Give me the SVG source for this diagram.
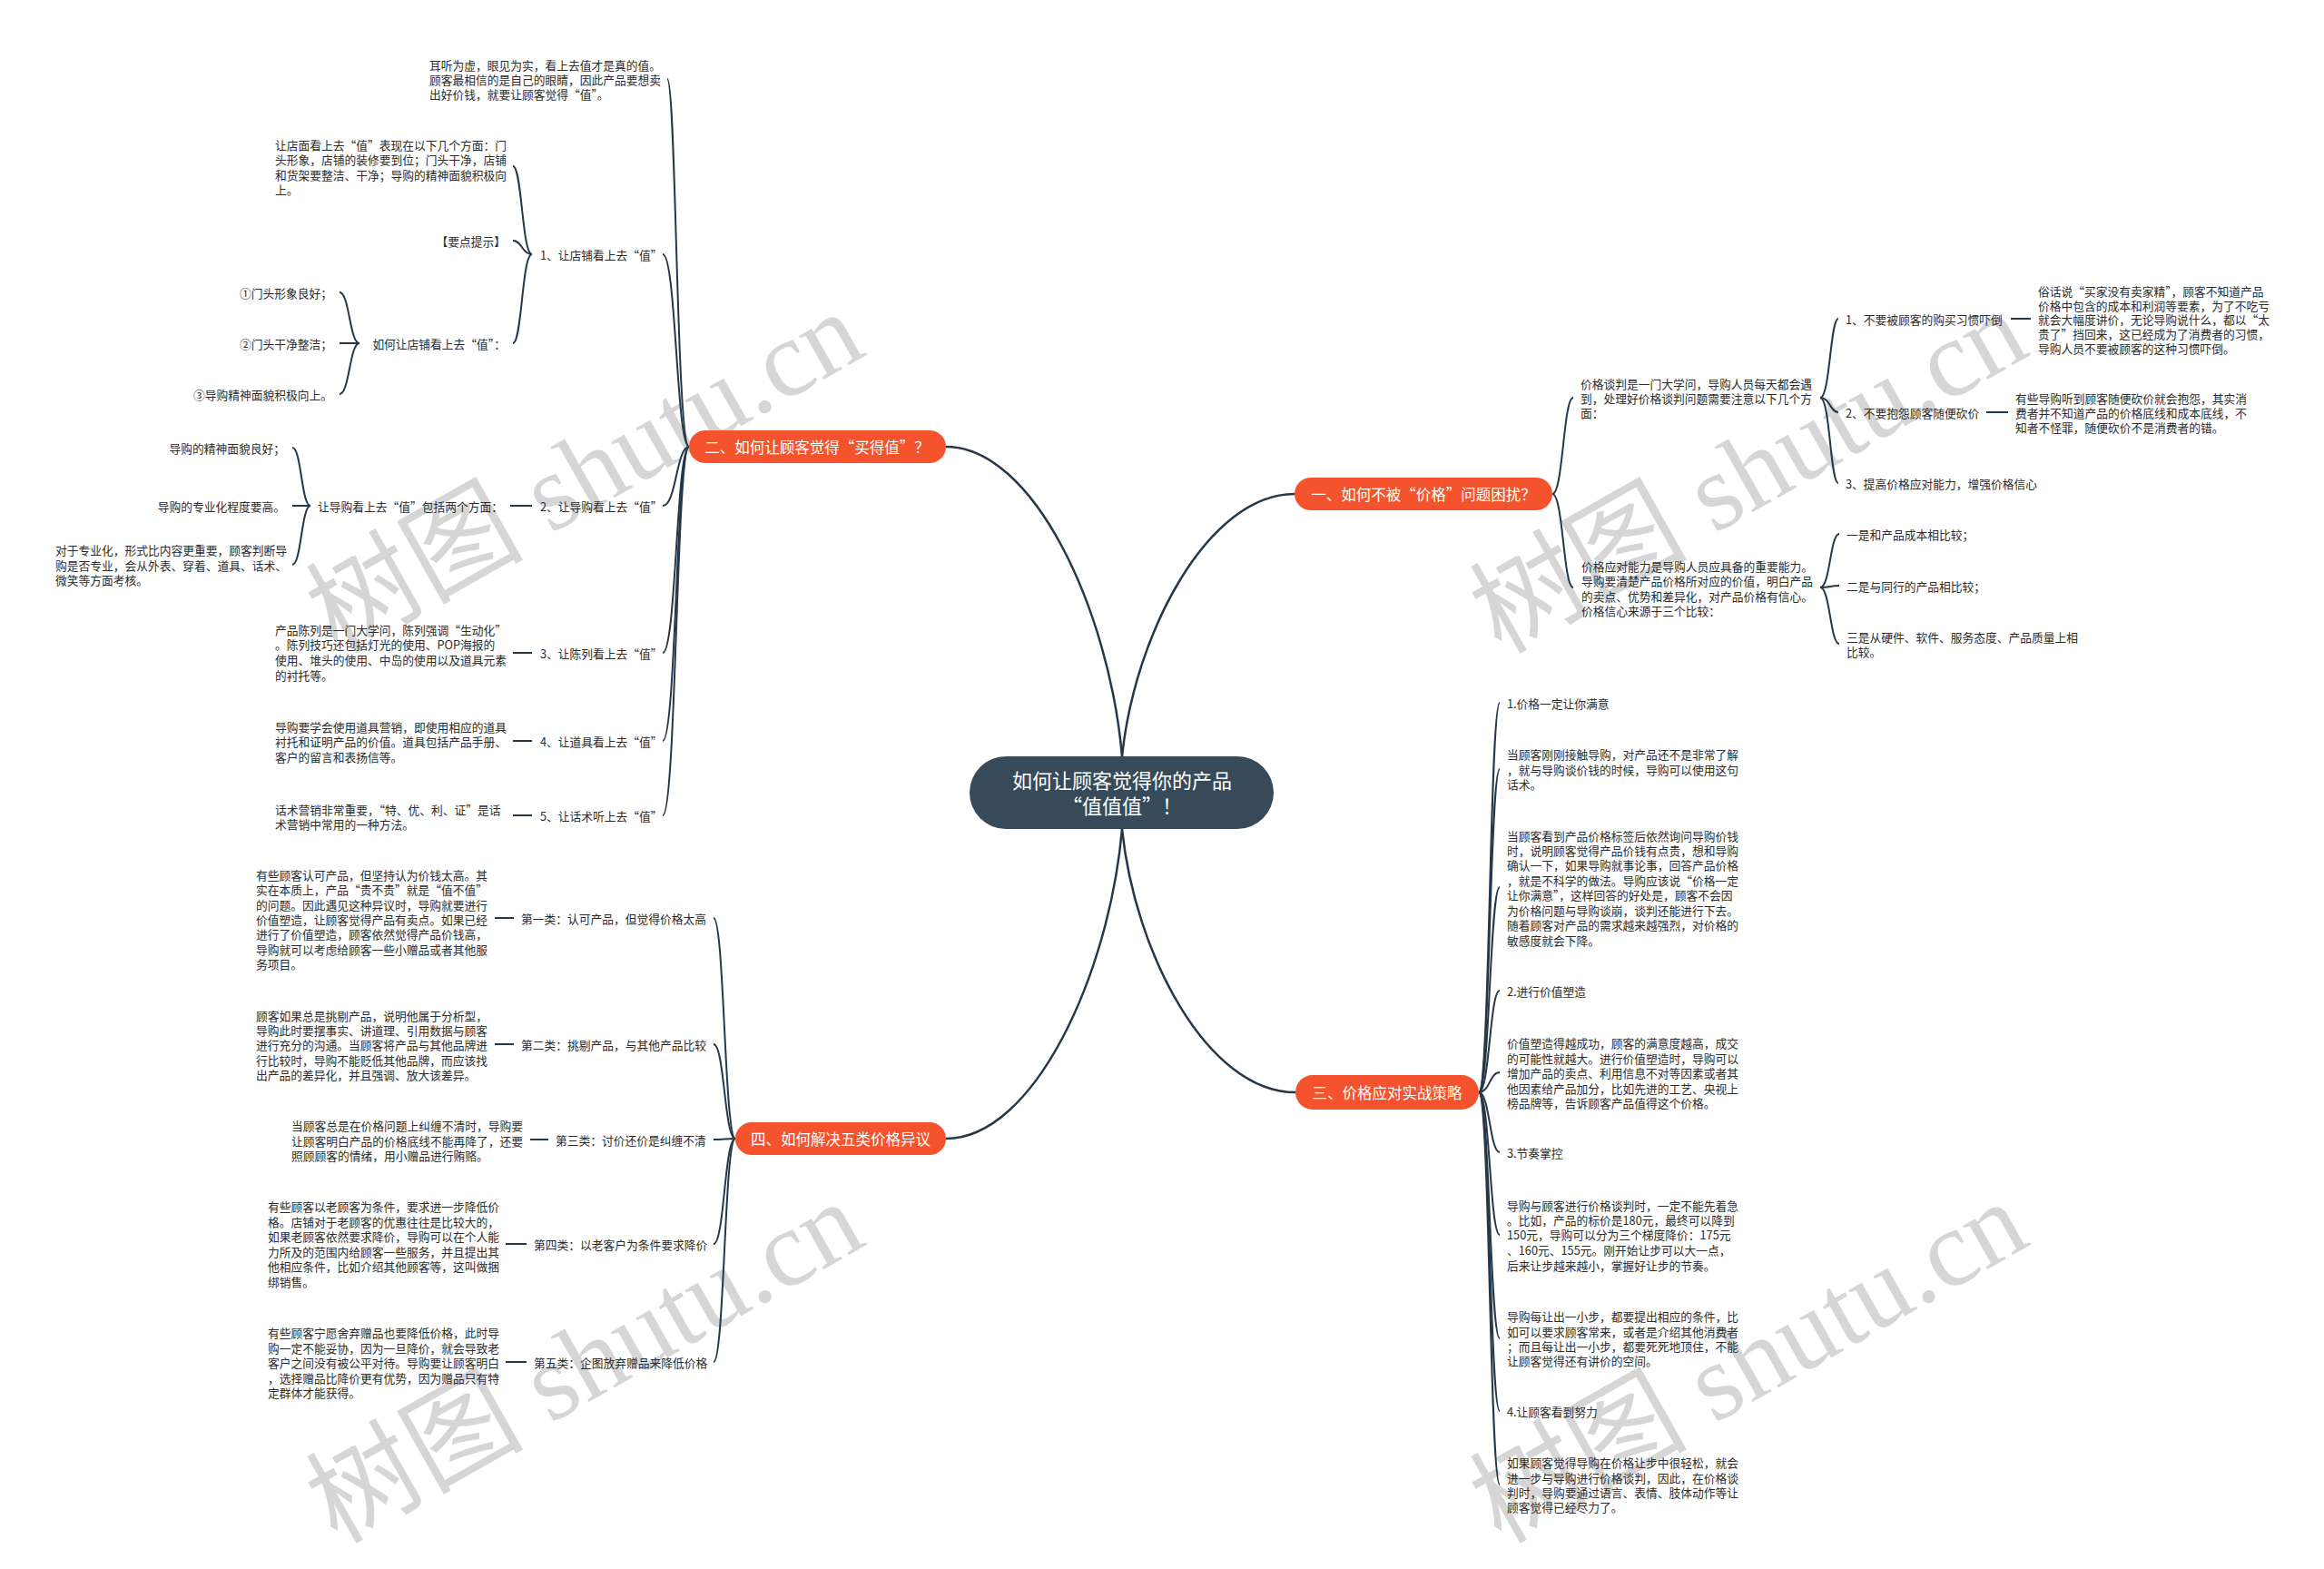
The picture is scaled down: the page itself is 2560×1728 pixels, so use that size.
<svg xmlns="http://www.w3.org/2000/svg" width="2560" height="1728" viewBox="0 0 2560 1728">
<style>
text{font-family:"Noto Sans CJK SC","Noto Sans",sans-serif;dominant-baseline:central}
.t{font-size:12.75px;fill:#2b2b2b}
.e{text-anchor:end}
.b{font-size:16.5px;fill:#fff;text-anchor:middle}
.c{font-size:22px;fill:#fff;text-anchor:middle}
.ln{fill:none;stroke:#263747;stroke-width:2}
.mn{fill:none;stroke:#263747;stroke-width:2.5}
.br{fill:#f4532d}
.wm{font-family:"Liberation Serif","Noto Sans CJK SC",serif;font-size:120px;fill:#d6d6d6}
</style>
<rect width="2560" height="1728" fill="#fff"/>
<g id="watermarks">
<text class="wm" transform="translate(351 686) rotate(-29.5)">树图 shutu.cn</text>
<text class="wm" transform="translate(351 1666) rotate(-29.5)">树图 shutu.cn</text>
<text class="wm" transform="translate(1633 686) rotate(-29.5)">树图 shutu.cn</text>
<text class="wm" transform="translate(1633 1666) rotate(-29.5)">树图 shutu.cn</text>
</g>
<g id="connectors">
<path class="mn" d="M1236 833 C1250 697 1331 544 1426 544"/>
<path class="mn" d="M1236 833 C1222 673 1139 492 1042 492"/>
<path class="mn" d="M1236 913 C1250 1050 1330 1203 1427 1203"/>
<path class="mn" d="M1236 913 C1222 1073 1139 1254 1042 1254"/>
<path class="ln" d="M759 492 C745 492 745 87 735 87"/>
<path class="ln" d="M759 492 C745 492 745 280 730 280"/>
<path class="ln" d="M759 492 C745 492 745 557 730 557"/>
<path class="ln" d="M759 492 C745 492 745 719 730 719"/>
<path class="ln" d="M759 492 C745 492 745 816 730 816"/>
<path class="ln" d="M759 492 C745 492 745 898 730 898"/>
<path class="ln" d="M586 280 C575 280 575 183 565 183"/>
<path class="ln" d="M586 280 C575 280 575 265 565 265"/>
<path class="ln" d="M586 280 C575 280 575 378 565 378"/>
<path class="ln" d="M396 378 C385 378 385 322 374 322"/>
<path class="ln" d="M396 378 L374 378"/>
<path class="ln" d="M396 378 C385 378 385 434 374 434"/>
<path class="ln" d="M586 557 L562 557"/>
<path class="ln" d="M342 557 C332 557 332 493 322 493"/>
<path class="ln" d="M342 557 L322 557"/>
<path class="ln" d="M342 557 C332 557 332 622 322 622"/>
<path class="ln" d="M586 719 L565 719"/>
<path class="ln" d="M586 816 L565 816"/>
<path class="ln" d="M586 898 L565 898"/>
<path class="ln" d="M810 1254 C798 1254 798 1011 786 1011"/>
<path class="ln" d="M810 1254 C798 1254 798 1150 786 1150"/>
<path class="ln" d="M810 1254 C798 1254 798 1255 786 1255"/>
<path class="ln" d="M810 1254 C798 1254 798 1370 786 1370"/>
<path class="ln" d="M810 1254 C798 1254 798 1500 786 1500"/>
<path class="ln" d="M566 1011 L545 1011"/>
<path class="ln" d="M566 1150 L545 1150"/>
<path class="ln" d="M604 1255 L584 1255"/>
<path class="ln" d="M580 1370 L557 1370"/>
<path class="ln" d="M580 1500 L557 1500"/>
<path class="ln" d="M1710 544 C1722 544 1722 438 1733 438"/>
<path class="ln" d="M1710 544 C1722 544 1722 647 1733 647"/>
<path class="ln" d="M2005 438 C2016 438 2016 351 2025 351"/>
<path class="ln" d="M2005 438 C2016 438 2016 454 2025 454"/>
<path class="ln" d="M2005 438 C2016 438 2016 532 2025 532"/>
<path class="ln" d="M2215 351 L2237 351"/>
<path class="ln" d="M2188 454 L2212 454"/>
<path class="ln" d="M2005 647 C2016 647 2016 588 2026 588"/>
<path class="ln" d="M2005 647 C2016 647 2016 645 2026 645"/>
<path class="ln" d="M2005 647 C2016 647 2016 709 2026 709"/>
<path class="ln" d="M1629 1203 C1641 1203 1641 774 1652 774"/>
<path class="ln" d="M1629 1203 C1641 1203 1641 847 1652 847"/>
<path class="ln" d="M1629 1203 C1641 1203 1641 977 1652 977"/>
<path class="ln" d="M1629 1203 C1641 1203 1641 1091 1652 1091"/>
<path class="ln" d="M1629 1203 C1641 1203 1641 1181 1652 1181"/>
<path class="ln" d="M1629 1203 C1641 1203 1641 1269 1652 1269"/>
<path class="ln" d="M1629 1203 C1641 1203 1641 1360 1652 1360"/>
<path class="ln" d="M1629 1203 C1641 1203 1641 1474 1652 1474"/>
<path class="ln" d="M1629 1203 C1641 1203 1641 1554 1652 1554"/>
<path class="ln" d="M1629 1203 C1641 1203 1641 1635 1652 1635"/>
</g>
<g id="center">
<rect x="1068" y="833" width="335" height="80" rx="40" fill="#364a59"/>
<text class="c" x="1236" y="858">如何让顾客觉得你的产品</text>
<text class="c" x="1236" y="886">“值值值”！</text>
</g>
<g id="b1"><rect class="br" x="1426" y="526" width="284" height="36" rx="18"/><text class="b" x="1568" y="544">一、如何不被“价格”问题困扰？</text></g>
<g id="b2"><rect class="br" x="759" y="474" width="283" height="36" rx="18"/><text class="b" x="900" y="492">二、如何让顾客觉得“买得值”？</text></g>
<g id="b3"><rect class="br" x="1427" y="1184" width="202" height="38" rx="19"/><text class="b" x="1528" y="1203">三、价格应对实战策略</text></g>
<g id="b4"><rect class="br" x="810" y="1236" width="232" height="36" rx="18"/><text class="b" x="926" y="1254">四、如何解决五类价格异议</text></g>

<g id="n2-0"><text class="t"><tspan x="473" y="71">耳听为虚，眼见为实，看上去值才是真的值。</tspan><tspan x="473" y="87">顾客最相信的是自己的眼睛，因此产品要想卖</tspan><tspan x="473" y="103">出好价钱，就要让顾客觉得“值”。</tspan></text></g>
<g id="n2-1"><text class="t" x="595" y="280">1、让店铺看上去“值”</text></g>
<g id="n2-1-1"><text class="t"><tspan x="303" y="159">让店面看上去“值”表现在以下几个方面：门</tspan><tspan x="303" y="175">头形象，店铺的装修要到位；门头干净，店铺</tspan><tspan x="303" y="192">和货架要整洁、干净；导购的精神面貌积极向</tspan><tspan x="303" y="208">上。</tspan></text></g>
<g id="n2-1-2"><text class="t e" x="557" y="265">【要点提示】</text></g>
<g id="n2-1-3"><text class="t e" x="557" y="378">如何让店铺看上去“值”：</text></g>
<g id="n2-1-3-1"><text class="t e" x="366" y="322">①门头形象良好；</text></g>
<g id="n2-1-3-2"><text class="t e" x="366" y="378">②门头干净整洁；</text></g>
<g id="n2-1-3-3"><text class="t e" x="366" y="434">③导购精神面貌积极向上。</text></g>
<g id="n2-2"><text class="t" x="595" y="557">2、让导购看上去“值”</text></g>
<g id="n2-2-1"><text class="t e" x="554" y="557">让导购看上去“值”包括两个方面：</text></g>
<g id="n2-2-1-1"><text class="t e" x="314" y="493">导购的精神面貌良好；</text></g>
<g id="n2-2-1-2"><text class="t e" x="314" y="557">导购的专业化程度要高。</text></g>
<g id="n2-2-1-3"><text class="t"><tspan x="61" y="605">对于专业化，形式比内容更重要，顾客判断导</tspan><tspan x="61" y="622">购是否专业，会从外表、穿着、道具、话术、</tspan><tspan x="61" y="638">微笑等方面考核。</tspan></text></g>
<g id="n2-3"><text class="t" x="595" y="719">3、让陈列看上去“值”</text></g>
<g id="n2-3-1"><text class="t"><tspan x="303" y="693">产品陈列是一门大学问，陈列强调“生动化”</tspan><tspan x="303" y="709">。陈列技巧还包括灯光的使用、POP海报的</tspan><tspan x="303" y="726">使用、堆头的使用、中岛的使用以及道具元素</tspan><tspan x="303" y="743">的衬托等。</tspan></text></g>
<g id="n2-4"><text class="t" x="595" y="816">4、让道具看上去“值”</text></g>
<g id="n2-4-1"><text class="t"><tspan x="303" y="800">导购要学会使用道具营销，即使用相应的道具</tspan><tspan x="303" y="816">衬托和证明产品的价值。道具包括产品手册、</tspan><tspan x="303" y="833">客户的留言和表扬信等。</tspan></text></g>
<g id="n2-5"><text class="t" x="595" y="898">5、让话术听上去“值”</text></g>
<g id="n2-5-1"><text class="t"><tspan x="303" y="891">话术营销非常重要，“特、优、利、证”是话</tspan><tspan x="303" y="907">术营销中常用的一种方法。</tspan></text></g>

<g id="n4-1"><text class="t" x="574" y="1011">第一类：认可产品，但觉得价格太高</text></g>
<g id="n4-1-1"><text class="t"><tspan x="282" y="963">有些顾客认可产品，但坚持认为价钱太高。其</tspan><tspan x="282" y="979">实在本质上，产品“贵不贵”就是“值不值”</tspan><tspan x="282" y="996">的问题。因此遇见这种异议时，导购就要进行</tspan><tspan x="282" y="1012">价值塑造，让顾客觉得产品有卖点。如果已经</tspan><tspan x="282" y="1028">进行了价值塑造，顾客依然觉得产品价钱高，</tspan><tspan x="282" y="1045">导购就可以考虑给顾客一些小赠品或者其他服</tspan><tspan x="282" y="1061">务项目。</tspan></text></g>
<g id="n4-2"><text class="t" x="574" y="1150">第二类：挑剔产品，与其他产品比较</text></g>
<g id="n4-2-1"><text class="t"><tspan x="282" y="1118">顾客如果总是挑剔产品，说明他属于分析型，</tspan><tspan x="282" y="1134">导购此时要摆事实、讲道理、引用数据与顾客</tspan><tspan x="282" y="1150">进行充分的沟通。当顾客将产品与其他品牌进</tspan><tspan x="282" y="1167">行比较时，导购不能贬低其他品牌，而应该找</tspan><tspan x="282" y="1183">出产品的差异化，并且强调、放大该差异。</tspan></text></g>
<g id="n4-3"><text class="t" x="612" y="1255">第三类：讨价还价是纠缠不清</text></g>
<g id="n4-3-1"><text class="t"><tspan x="321" y="1239">当顾客总是在价格问题上纠缠不清时，导购要</tspan><tspan x="321" y="1256">让顾客明白产品的价格底线不能再降了，还要</tspan><tspan x="321" y="1272">照顾顾客的情绪，用小赠品进行贿赂。</tspan></text></g>
<g id="n4-4"><text class="t" x="588" y="1370">第四类：以老客户为条件要求降价</text></g>
<g id="n4-4-1"><text class="t"><tspan x="295" y="1328">有些顾客以老顾客为条件，要求进一步降低价</tspan><tspan x="295" y="1345">格。店铺对于老顾客的优惠往往是比较大的，</tspan><tspan x="295" y="1361">如果老顾客依然要求降价，导购可以在个人能</tspan><tspan x="295" y="1378">力所及的范围内给顾客一些服务，并且提出其</tspan><tspan x="295" y="1394">他相应条件，比如介绍其他顾客等，这叫做捆</tspan><tspan x="295" y="1411">绑销售。</tspan></text></g>
<g id="n4-5"><text class="t" x="588" y="1500">第五类：企图放弃赠品来降低价格</text></g>
<g id="n4-5-1"><text class="t"><tspan x="295" y="1467">有些顾客宁愿舍弃赠品也要降低价格，此时导</tspan><tspan x="295" y="1484">购一定不能妥协，因为一旦降价，就会导致老</tspan><tspan x="295" y="1500">客户之间没有被公平对待。导购要让顾客明白</tspan><tspan x="295" y="1517">，选择赠品比降价更有优势，因为赠品只有特</tspan><tspan x="295" y="1533">定群体才能获得。</tspan></text></g>

<g id="n1-1"><text class="t"><tspan x="1741" y="422">价格谈判是一门大学问，导购人员每天都会遇</tspan><tspan x="1741" y="438">到，处理好价格谈判问题需要注意以下几个方</tspan><tspan x="1741" y="454">面：</tspan></text></g>
<g id="n1-1-1"><text class="t" x="2033" y="351">1、不要被顾客的购买习惯吓倒</text></g>
<g id="n1-1-1-1"><text class="t"><tspan x="2245" y="320">俗话说“买家没有卖家精”，顾客不知道产品</tspan><tspan x="2245" y="336">价格中包含的成本和利润等要素，为了不吃亏</tspan><tspan x="2245" y="351">就会大幅度讲价，无论导购说什么，都以“太</tspan><tspan x="2245" y="367">贵了”挡回来，这已经成为了消费者的习惯，</tspan><tspan x="2245" y="383">导购人员不要被顾客的这种习惯吓倒。</tspan></text></g>
<g id="n1-1-2"><text class="t" x="2033" y="454">2、不要抱怨顾客随便砍价</text></g>
<g id="n1-1-2-1"><text class="t"><tspan x="2220" y="438">有些导购听到顾客随便砍价就会抱怨，其实消</tspan><tspan x="2220" y="454">费者并不知道产品的价格底线和成本底线，不</tspan><tspan x="2220" y="470">知者不怪罪，随便砍价不是消费者的错。</tspan></text></g>
<g id="n1-1-3"><text class="t" x="2033" y="532">3、提高价格应对能力，增强价格信心</text></g>
<g id="n1-2"><text class="t"><tspan x="1742" y="623">价格应对能力是导购人员应具备的重要能力。</tspan><tspan x="1742" y="639">导购要清楚产品价格所对应的价值，明白产品</tspan><tspan x="1742" y="656">的卖点、优势和差异化，对产品价格有信心。</tspan><tspan x="1742" y="672">价格信心来源于三个比较：</tspan></text></g>
<g id="n1-2-1"><text class="t" x="2034" y="588">一是和产品成本相比较；</text></g>
<g id="n1-2-2"><text class="t" x="2034" y="645">二是与同行的产品相比较；</text></g>
<g id="n1-2-3"><text class="t"><tspan x="2034" y="701">三是从硬件、软件、服务态度、产品质量上相</tspan><tspan x="2034" y="717">比较。</tspan></text></g>

<g id="n3-1"><text class="t" x="1660" y="774">1.价格一定让你满意</text></g>
<g id="n3-2"><text class="t"><tspan x="1660" y="830">当顾客刚刚接触导购，对产品还不是非常了解</tspan><tspan x="1660" y="847">，就与导购谈价钱的时候，导购可以使用这句</tspan><tspan x="1660" y="863">话术。</tspan></text></g>
<g id="n3-3"><text class="t"><tspan x="1660" y="920">当顾客看到产品价格标签后依然询问导购价钱</tspan><tspan x="1660" y="936">时，说明顾客觉得产品价钱有点贵，想和导购</tspan><tspan x="1660" y="952">确认一下，如果导购就事论事，回答产品价格</tspan><tspan x="1660" y="969">，就是不科学的做法。导购应该说“价格一定</tspan><tspan x="1660" y="985">让你满意”，这样回答的好处是，顾客不会因</tspan><tspan x="1660" y="1002">为价格问题与导购谈崩，谈判还能进行下去。</tspan><tspan x="1660" y="1018">随着顾客对产品的需求越来越强烈，对价格的</tspan><tspan x="1660" y="1035">敏感度就会下降。</tspan></text></g>
<g id="n3-4"><text class="t" x="1660" y="1091">2.进行价值塑造</text></g>
<g id="n3-5"><text class="t"><tspan x="1660" y="1148">价值塑造得越成功，顾客的满意度越高，成交</tspan><tspan x="1660" y="1165">的可能性就越大。进行价值塑造时，导购可以</tspan><tspan x="1660" y="1181">增加产品的卖点、利用信息不对等因素或者其</tspan><tspan x="1660" y="1198">他因素给产品加分，比如先进的工艺、央视上</tspan><tspan x="1660" y="1214">榜品牌等，告诉顾客产品值得这个价格。</tspan></text></g>
<g id="n3-6"><text class="t" x="1660" y="1269">3.节奏掌控</text></g>
<g id="n3-7"><text class="t"><tspan x="1660" y="1327">导购与顾客进行价格谈判时，一定不能先着急</tspan><tspan x="1660" y="1343">。比如，产品的标价是180元，最终可以降到</tspan><tspan x="1660" y="1359">150元，导购可以分为三个梯度降价：175元</tspan><tspan x="1660" y="1376">、160元、155元。刚开始让步可以大一点，</tspan><tspan x="1660" y="1393">后来让步越来越小，掌握好让步的节奏。</tspan></text></g>
<g id="n3-8"><text class="t"><tspan x="1660" y="1449">导购每让出一小步，都要提出相应的条件，比</tspan><tspan x="1660" y="1466">如可以要求顾客常来，或者是介绍其他消费者</tspan><tspan x="1660" y="1482">；而且每让出一小步，都要死死地顶住，不能</tspan><tspan x="1660" y="1498">让顾客觉得还有讲价的空间。</tspan></text></g>
<g id="n3-9"><text class="t" x="1660" y="1554">4.让顾客看到努力</text></g>
<g id="n3-10"><text class="t"><tspan x="1660" y="1610">如果顾客觉得导购在价格让步中很轻松，就会</tspan><tspan x="1660" y="1627">进一步与导购进行价格谈判，因此，在价格谈</tspan><tspan x="1660" y="1643">判时，导购要通过语言、表情、肢体动作等让</tspan><tspan x="1660" y="1659">顾客觉得已经尽力了。</tspan></text></g>
</svg>
